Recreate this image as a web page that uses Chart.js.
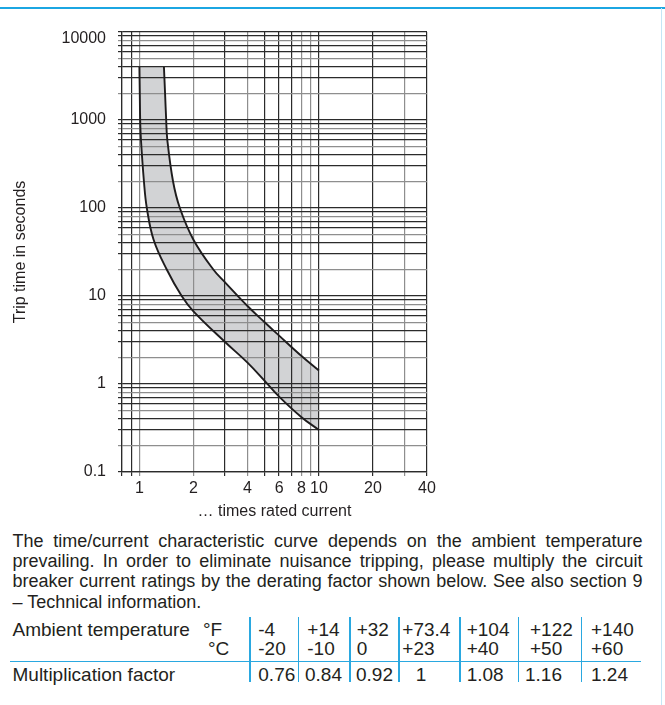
<!DOCTYPE html>
<html>
<head>
<meta charset="utf-8">
<script src="https://cdn.jsdelivr.net/npm/chart.js@4/dist/chart.umd.min.js"></script>
<style>
  html, body { margin: 0; padding: 0; background: #ffffff; }
  body { width: 665px; height: 705px; position: relative; overflow: hidden;
         font-family: 'Liberation Sans', Arial, Helvetica, sans-serif; color: #231f20; }
  #topline { position: absolute; left: 0; top: 7.3px; width: 665px; height: 1.6px; background: #1ba6e2; }
  #rightline { position: absolute; left: 661px; top: 8px; width: 1px; height: 697px; background: #c4e6f6; }
  #chartBox { position: absolute; left: 0; top: 0; width: 442px; height: 522px; }
  #para { position: absolute; left: 12.5px; top: 530.6px; width: 630px; font-size: 18px; line-height: 20.4px; }
  #para div { text-align: justify; text-align-last: justify; }
  #para div.last { text-align-last: left; }
  .t { position: absolute; font-size: 19px; line-height: 19px; white-space: nowrap; }
  .vl { position: absolute; width: 1.3px; background: #2aa8e0; top: 616.7px; height: 65px; }
  .hl { position: absolute; height: 1.3px; background: #2aa8e0; left: 10px; top: 661.1px; width: 631px; }
</style>
</head>
<body>
<div id="topline"></div>
<div id="rightline"></div>
<div id="chartBox"><canvas id="c"></canvas></div>
<div id="para"></div>
<div id="table"></div>
<script>
// ---------- data ----------
const xGridValues = [0.8, 0.9, 1, 2, 3, 4, 5, 6, 7, 8, 9, 10, 20, 30, 40];
const xTickLabels = [1, 2, 4, 6, 8, 10, 20, 40];
const yTickLabels = [0.1, 1, 10, 100, 1000, 10000];

// fast edge of the band (lower / left curve)
const lowerX = [1.0, 1.005, 1.01, 1.02, 1.06, 1.10, 1.20, 1.42, 1.72, 2, 3, 4, 5, 6, 8, 10];
const lowerY = [4000, 2000, 1000, 600, 200, 100, 43.6, 20, 10, 6.7, 3.0, 1.75, 1.08, 0.72, 0.42, 0.30];
// slow edge of the band (upper / right curve)
const upperX = [1.37, 1.39, 1.41, 1.43, 1.54, 1.68, 2.0, 2.58, 3, 4, 5, 6, 8, 10];
const upperY = [4000, 2000, 1000, 600, 200, 100, 43.6, 20, 14.3, 7.7, 5.0, 3.55, 2.08, 1.42];

const xTitle = '… times rated current';
const yTitle = 'Trip time in seconds';

const paragraphLines = [
  'The time/current characteristic curve depends on the ambient temperature',
  'prevailing. In order to eliminate nuisance tripping, please multiply the circuit',
  'breaker current ratings by the derating factor shown below. See also section 9',
  '– Technical information.'
];
const rowLabelTemp = 'Ambient temperature';
const unitF = '°F';
const unitC = '°C';
const rowLabelFactor = 'Multiplication factor';
const tempF = ['-4', '+14', '+32', '+73.4', '+104', '+122', '+140'];
const tempC = ['-20', '-10', '0', '+23', '+40', '+50', '+60'];
const factors = [0.76, 0.84, 0.92, 1, 1.08, 1.16, 1.24];

// ---------- styles / layout ----------
const FONT = "'Liberation Sans', Arial, Helvetica, sans-serif";
const TEXT = '#231f20';
const GRID_DARK = '#2b2b2b';
const GRID_LIGHT = '#8e8e8e';
const xLight = [1, 2, 4, 8, 9, 30];
const yLightMantissa = [2, 5, 8];

function near(a, b) { return Math.abs(a - b) <= Math.abs(b) * 1e-6; }
function mantissa(v) {
  const e = Math.floor(Math.log10(v) + 1e-9);
  return Math.round(v / Math.pow(10, e));
}
const yGridValues = [];
for (let e = -1; e <= 3; e++) {
  for (let m = 1; m <= 9; m++) yGridValues.push(+(m * Math.pow(10, e)).toPrecision(6));
}
yGridValues.push(10000);

const lowerData = lowerX.map((x, i) => ({ x: x, y: lowerY[i] }));
const upperData = upperX.map((x, i) => ({ x: x, y: upperY[i] }));

// fills the band between the two curves, using the library's computed points
const bandFill = {
  id: 'bandFill',
  beforeDraw(chart) {
    const m0 = chart.getDatasetMeta(0), m1 = chart.getDatasetMeta(1);
    if (!m0 || !m1 || !m0.data.length || !m1.data.length) return;
    m0.dataset.updateControlPoints(chart.chartArea, 'x');
    m1.dataset.updateControlPoints(chart.chartArea, 'x');
    const lo = m0.data, up = m1.data;
    const ctx = chart.ctx;
    ctx.save();
    ctx.beginPath();
    ctx.moveTo(lo[0].x, lo[0].y);
    for (let i = 1; i < lo.length; i++) {
      const p = lo[i - 1], q = lo[i];
      ctx.bezierCurveTo(p.cp2x, p.cp2y, q.cp1x, q.cp1y, q.x, q.y);
    }
    const n = up.length - 1;
    ctx.lineTo(up[n].x, up[n].y);
    for (let i = n; i > 0; i--) {
      const p = up[i], q = up[i - 1];
      ctx.bezierCurveTo(p.cp1x, p.cp1y, q.cp2x, q.cp2y, q.x, q.y);
    }
    ctx.closePath();
    ctx.fillStyle = '#d2d3d5';
    ctx.fill();
    ctx.restore();
  }
};

const lineStyle = {
  borderColor: '#1e1c1d',
  borderWidth: 1.9,
  pointRadius: 0,
  pointHoverRadius: 0,
  fill: false,
  tension: 0.4
};

new Chart(document.getElementById('c'), {
  type: 'line',
  data: {
    datasets: [
      Object.assign({ label: 'lower', data: lowerData }, lineStyle),
      Object.assign({ label: 'upper', data: upperData }, lineStyle)
    ]
  },
  options: {
    responsive: true,
    maintainAspectRatio: false,
    animation: false,
    events: [],
    layout: { padding: { left: 0, top: 32, right: 15, bottom: 0 } },
    plugins: { legend: { display: false }, tooltip: { enabled: false } },
    scales: {
      x: {
        type: 'logarithmic',
        min: 0.8,
        max: 40,
        afterBuildTicks: (s) => { s.ticks = xGridValues.map(v => ({ value: v })); },
        afterFit: (s) => { s.height = 50; },
        ticks: {
          autoSkip: false,
          maxRotation: 0,
          minRotation: 0,
          padding: 3,
          color: TEXT,
          font: { family: FONT, size: 16 },
          callback: (v) => {
            const hit = xTickLabels.find(t => near(v, t));
            return hit === undefined ? '' : String(hit);
          }
        },
        grid: {
          drawTicks: true,
          tickLength: 4,
          lineWidth: 1.2,
          color: (ctx) => {
            const v = ctx.tick ? ctx.tick.value : 0;
            return xLight.some(t => near(v, t)) ? GRID_LIGHT : GRID_DARK;
          }
        },
        border: { display: true, color: GRID_DARK, width: 1.2 },
        title: {
          display: true,
          text: xTitle,
          color: TEXT,
          font: { family: FONT, size: 16 },
          padding: { top: 0, bottom: 1 }
        }
      },
      y: {
        type: 'logarithmic',
        min: 0.1,
        max: 10000,
        afterBuildTicks: (s) => { s.ticks = yGridValues.map(v => ({ value: v })); },
        afterFit: (s) => { s.width = 122; },
        ticks: {
          autoSkip: false,
          padding: 12,
          color: TEXT,
          font: { family: FONT, size: 16, lineHeight: 0.875 },
          callback: (v) => {
            const hit = yTickLabels.find(t => near(v, t));
            if (hit === undefined) return '';
            return hit === yTickLabels[yTickLabels.length - 1] ? ['', String(hit)] : String(hit);
          }
        },
        grid: {
          drawTicks: true,
          tickLength: 4,
          lineWidth: 1.2,
          color: (ctx) => {
            const v = ctx.tick ? ctx.tick.value : 1;
            return yLightMantissa.includes(mantissa(v)) ? GRID_LIGHT : GRID_DARK;
          }
        },
        border: { display: true, color: GRID_DARK, width: 1.2 },
        title: {
          display: true,
          text: yTitle,
          color: TEXT,
          font: { family: FONT, size: 16 },
          padding: { top: 11, bottom: 0 }
        }
      }
    }
  },
  plugins: [bandFill]
});

// ---------- paragraph ----------
const para = document.getElementById('para');
paragraphLines.forEach((line, i) => {
  const d = document.createElement('div');
  d.textContent = line;
  if (i === paragraphLines.length - 1) d.className = 'last';
  para.appendChild(d);
});

// ---------- derating table ----------
const table = document.getElementById('table');
const rowTop = [619.9, 638.9, 664.6];
const colSep = [250, 298.3, 350, 399, 460, 518.3, 581.7];
const colTextTemp = [258.3, 307.3, 356.7, 402.3, 466.7, 530, 591];
const colTextFactor = [258.3, 305, 356, 415.7, 466.7, 525, 591];

function addText(txt, left, top) {
  const d = document.createElement('div');
  d.className = 't';
  d.textContent = txt;
  d.style.left = left + 'px';
  d.style.top = top + 'px';
  table.appendChild(d);
}
addText(rowLabelTemp, 12.5, rowTop[0]);
addText(unitF, 203, rowTop[0]);
addText(unitC, 208, rowTop[1]);
addText(rowLabelFactor, 12.5, rowTop[2]);
tempF.forEach((t, i) => addText(t, colTextTemp[i], rowTop[0]));
tempC.forEach((t, i) => addText(t, colTextTemp[i], rowTop[1]));
factors.forEach((f, i) => addText(String(f), colTextFactor[i], rowTop[2]));
colSep.forEach(x => {
  const v = document.createElement('div');
  v.className = 'vl';
  v.style.left = (x - 0.6) + 'px';
  table.appendChild(v);
});
const hl = document.createElement('div');
hl.className = 'hl';
table.appendChild(hl);
</script>
</body>
</html>
